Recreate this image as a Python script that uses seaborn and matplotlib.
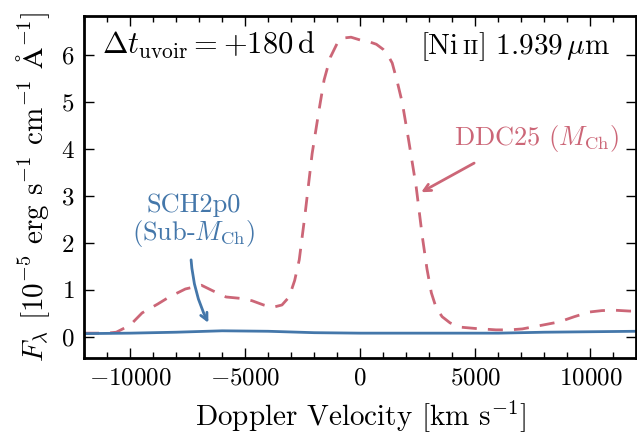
import numpy as np
import pandas as pd
import seaborn as sns
import matplotlib
matplotlib.use('Agg')
import matplotlib.pyplot as plt
from matplotlib.ticker import MultipleLocator

# Values
vel_ddc = [-12000, -11000, -10600, -10000, -9480, -8800, -8300, -7600, -6900, -6400,
           -5830, -5200, -4700, -4200, -3800, -3400, -3090, -2850, -2650, -2400,
           -2090, -1800, -1570, -1300, -1000, -780, -400, 0, 400, 700,
           1000, 1200, 1390, 1600, 1830, 2100, 2430, 2700, 2900, 3090,
           3300, 3560, 3900, 4300, 5000, 5900, 6500, 7040, 7800, 8650,
           9300, 9960, 10500, 11000, 11700, 12000]
flux_ddc = [0.08, 0.08, 0.10, 0.25, 0.51, 0.70, 0.85, 1.02, 1.10, 0.98,
            0.85, 0.82, 0.77, 0.68, 0.63, 0.68, 0.85, 1.20, 1.64, 2.60,
            3.90, 4.80, 5.47, 5.95, 6.25, 6.36, 6.38, 6.32, 6.28, 6.23,
            6.12, 6.00, 5.83, 5.45, 4.98, 4.20, 3.20, 2.13, 1.45, 0.94,
            0.62, 0.43, 0.30, 0.21, 0.18, 0.15, 0.15, 0.17, 0.24, 0.32,
            0.43, 0.53, 0.56, 0.57, 0.55, 0.55]

vel_sch = [-12000, -10000, -8000, -6000, -4000, -2000, 0, 2000, 4000, 6000, 8000, 10000, 12000]
flux_sch = [0.07, 0.08, 0.10, 0.13, 0.12, 0.09, 0.08, 0.08, 0.08, 0.08, 0.10, 0.11, 0.12]

df_ddc = pd.DataFrame({'vel': vel_ddc, 'flux': flux_ddc})
df_sch = pd.DataFrame({'vel': vel_sch, 'flux': flux_sch})

sns.set_style('ticks')
plt.rcParams['font.family'] = ['cmr10', 'DejaVu Serif']
plt.rcParams['mathtext.fontset'] = 'cm'
plt.rcParams['axes.formatter.use_mathtext'] = True
plt.rcParams['axes.unicode_minus'] = True
plt.rcParams['text.color'] = 'black'
plt.rcParams['axes.labelcolor'] = 'black'
plt.rcParams['xtick.color'] = 'black'
plt.rcParams['ytick.color'] = 'black'
plt.rcParams['axes.edgecolor'] = 'black'

red = '#CC6677'
blue = '#4477AA'

fig, ax = plt.subplots(figsize=(6.37, 4.34), dpi=100)
sns.lineplot(data=df_ddc, x='vel', y='flux', ax=ax, color=red, lw=2.0,
             estimator=None, sort=False)
ax.lines[-1].set_dashes([5.4, 4.0])
sns.lineplot(data=df_sch, x='vel', y='flux', ax=ax, color=blue, lw=2.0,
             estimator=None, sort=False)

ax.set_xlim(-12000, 12000)
ax.set_ylim(-0.45, 6.83)
ax.xaxis.set_major_locator(MultipleLocator(5000))
ax.xaxis.set_minor_locator(MultipleLocator(1000))
ax.yaxis.set_major_locator(MultipleLocator(1))
ax.tick_params(which='both', direction='in', top=True, right=True, labelsize=18)
ax.tick_params(which='major', length=7, width=1, pad=7)
ax.tick_params(which='minor', length=4, width=1)
for s in ax.spines.values():
    s.set_linewidth(2)

ax.set_xlabel(r'Doppler Velocity [km s$^{-1}$]', fontsize=21, labelpad=6)
ax.set_ylabel(r'$F_\lambda$ [10$^{-5}$ erg s$^{-1}$ cm$^{-1}$ $\mathrm{\AA}^{-1}$]', fontsize=21,
              labelpad=6)

ax.text(0.033, 0.89, r'$\Delta t_{\rm uvoir} = +180\,{\rm d}$', transform=ax.transAxes,
        fontsize=22, va='baseline', ha='left')

fig.subplots_adjust(left=0.132, right=0.999, top=0.963, bottom=0.175)

# [Ni II] label with small-caps style "II", pieces placed on a common baseline
fig.canvas.draw()
r = fig.canvas.get_renderer()
x0, yb = 0.61, 0.89
for s, fs in [('[Ni', 21), ('\u2009II', 15), ('] 1.939$\\,\\mu$m', 21)]:
    t = ax.text(x0, yb, s, transform=ax.transAxes, fontsize=fs, va='baseline', ha='left')
    bb = t.get_window_extent(r)
    x0 = ax.transAxes.inverted().transform((bb.x1, bb.y0))[0]

ax.text(-7250, 2.47, 'SCH2p0\n(Sub-$M_{\\rm Ch}$)', color=blue, fontsize=19,
        ha='center', va='center', linespacing=1.05)
ax.annotate('', xy=(-6600, 0.3), xytext=(-7350, 1.64),
            arrowprops=dict(arrowstyle='->,head_length=0.5,head_width=0.25', color=blue, lw=2,
                            connectionstyle='arc3,rad=0.1', shrinkA=0, shrinkB=0))
ax.text(7650, 4.23, r'DDC25 ($M_{\rm Ch}$)', color=red, fontsize=19,
        ha='center', va='center')
ax.annotate('', xy=(2650, 3.08), xytext=(4950, 3.7),
            arrowprops=dict(arrowstyle='->,head_length=0.5,head_width=0.25', color=red, lw=2,
                            connectionstyle='arc3,rad=0.0', shrinkA=0, shrinkB=0))

fig.savefig('out.png', dpi=100)
